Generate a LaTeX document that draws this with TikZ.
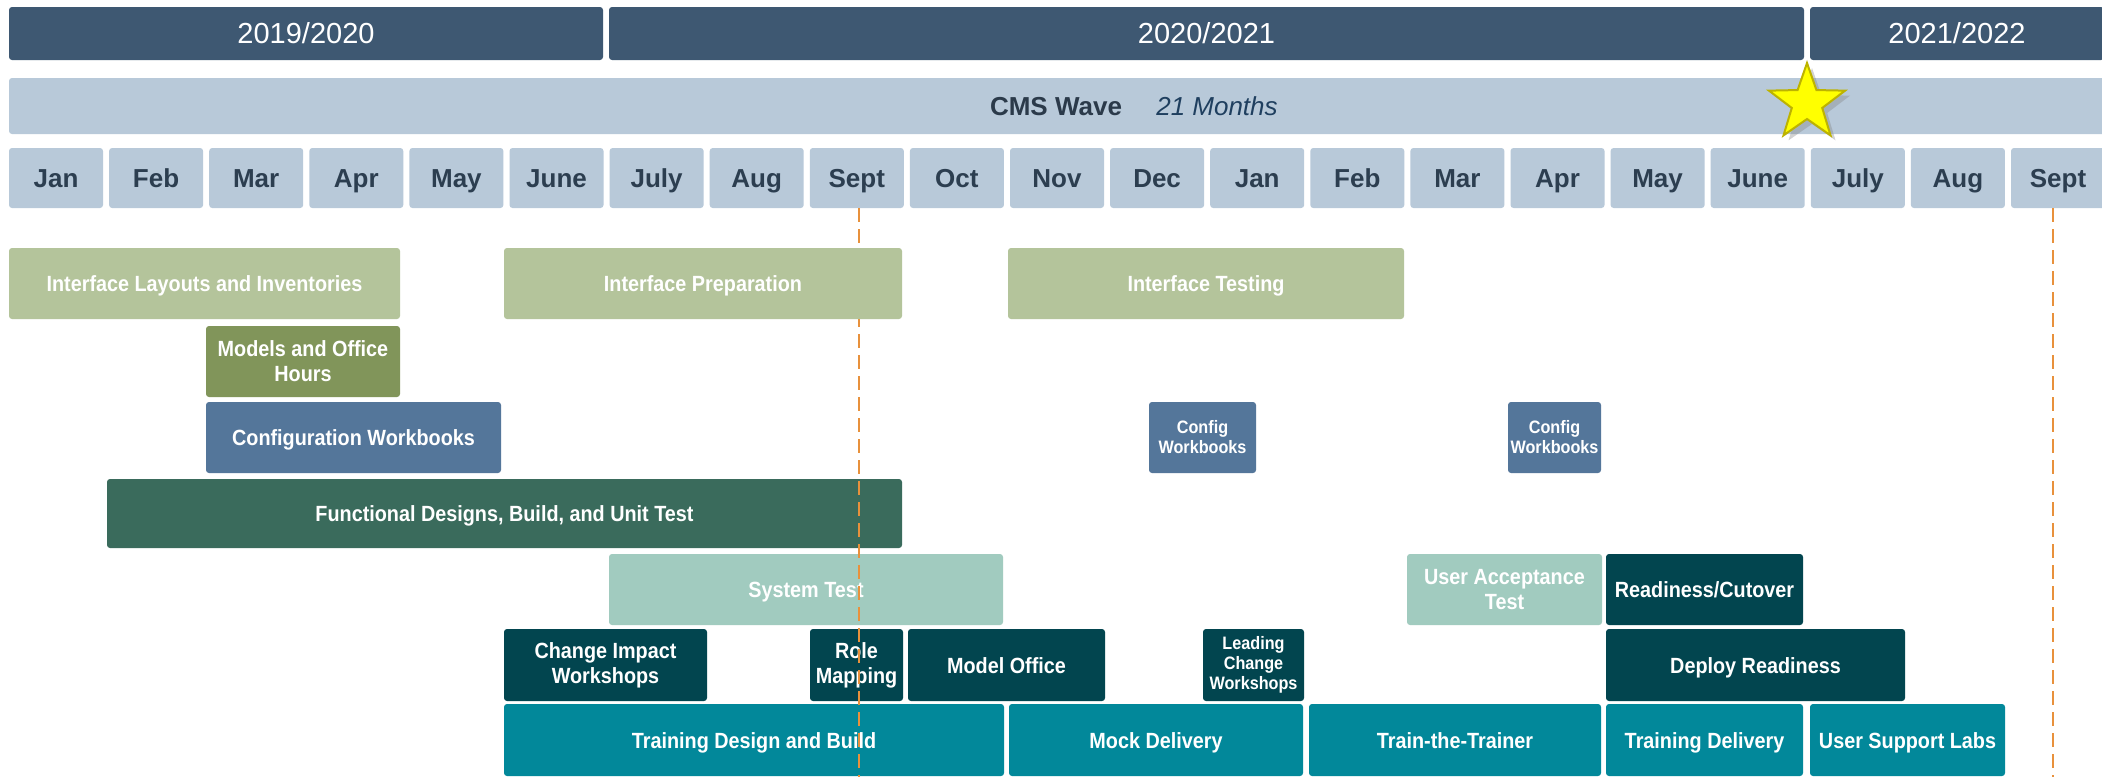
\documentclass[tikz,border=0pt]{standalone}
\usepackage{fontspec}
\setmainfont{Liberation Sans}
\newfontfamily\taskfont[FakeStretch=0.9]{Liberation Sans}
\usetikzlibrary{shapes.geometric,shadows}
\definecolor{yearbar}{HTML}{3E5872}
\definecolor{lightbar}{HTML}{B8C9D9}
\definecolor{monthtxt}{HTML}{2C3E50}
\definecolor{cmstxt}{HTML}{2B3A4A}
\definecolor{cmsital}{HTML}{1F3F5F}
\definecolor{sage}{HTML}{B4C49B}
\definecolor{olivebox}{HTML}{81955A}
\definecolor{steel}{HTML}{54769A}
\definecolor{dkgreen}{HTML}{3A6B5C}
\definecolor{ltteal}{HTML}{A1CBBF}
\definecolor{dkteal}{HTML}{02454F}
\definecolor{tealbox}{HTML}{02889A}
\definecolor{dashorange}{HTML}{E8913C}
\definecolor{starfill}{HTML}{FFFF00}
\definecolor{staredge}{HTML}{BDB300}
\newcommand{\taskbox}[7]{%
  \node[#2, minimum width={(#5-#3)*0.5pt}, minimum height={(#6-#4)*0.5pt}] (#1) at ({(#3+#5)/2},{(#4+#6)/2}) {#7};}
\tikzset{
  basebox/.style={rectangle, rounded corners=1.5pt, inner sep=0pt, outer sep=0pt, align=center},
  yearstyle/.style={basebox, fill=yearbar, text=white, font=\fontsize{14.5}{16}\selectfont, text height=13.4pt, text depth=3pt},
  monthstyle/.style={basebox, fill=lightbar, text=monthtxt, font=\fontsize{13}{15}\selectfont\bfseries, text height=12pt, text depth=2.7pt},
  task/.style={basebox, text=white, font=\fontsize{11}{12.5}\selectfont\taskfont\bfseries},
  oneline/.style={task, text height=10.5pt, text depth=2.5pt},
  smalltask/.style={basebox, text=white, font=\fontsize{9}{10}\selectfont\taskfont\bfseries},
  dashline/.style={draw=dashorange, line width=1.3pt, dash pattern=on 7pt off 3.5pt},
}
\begin{document}
\begin{tikzpicture}[x=0.5pt,y=-0.5pt]
\clip (0,0) rectangle (2102,777);
\fill[white] (0,0) rectangle (2102,777);
% year bars
\taskbox{y1}{yearstyle}{9}{7}{603}{60}{2019/2020}
\taskbox{y2}{yearstyle}{609}{7}{1804}{60}{2020/2021}
\taskbox{y3}{yearstyle}{1810}{7}{2104}{60}{2021/2022}
% CMS wave bar
\taskbox{cms}{basebox, fill=lightbar}{9}{78}{2110}{134}{}
\node[text=cmstxt, font=\fontsize{13}{15}\selectfont\bfseries, text height=12pt, text depth=2.7pt] (cmst) at (1056,106) {CMS Wave};
\node[text=cmsital, font=\fontsize{13}{15}\selectfont\itshape, text height=12pt, text depth=2.7pt] (cmsm) at (1217,106) {21 Months};
% star
\node[star, star points=5, star point ratio=2.5, minimum size=40pt, inner sep=0pt,
      fill=starfill, draw=staredge, line width=1pt,
      drop shadow={opacity=0.35, shadow xshift=2.5pt, shadow yshift=-2.5pt}] (star) at (1807,103) {};
% months
\foreach \m [count=\i from 0] in {Jan,Feb,Mar,Apr,May,June,July,Aug,Sept,Oct,Nov,Dec,Jan,Feb,Mar,Apr,May,June,July,Aug,Sept} {
  \pgfmathsetmacro\xa{9+100.1*\i}
  \node[monthstyle, minimum width=47pt, minimum height=30pt] (m\i) at (\xa+47,178) {\m};
}
% row 1
\taskbox{ila}{oneline, fill=sage}{9}{248}{400}{319}{Interface Layouts and Inventories}
\taskbox{it}{oneline, fill=sage}{1008}{248}{1404}{319}{Interface Testing}
% row 2
\taskbox{moh}{task, fill=olivebox}{206}{326}{400}{397}{Models and Office\\Hours}
% row 3
\taskbox{cw}{oneline, fill=steel}{206}{402}{501}{473}{Configuration Workbooks}
\taskbox{cwa}{smalltask, fill=steel}{1149}{402}{1256}{473}{Config\\Workbooks}
\taskbox{cwb}{smalltask, fill=steel}{1508}{402}{1601}{473}{Config\\Workbooks}
% row 4
\taskbox{fd}{oneline, fill=dkgreen}{107}{479}{902}{548}{Functional Designs, Build, and Unit Test}
% row 5
\taskbox{st}{oneline, fill=ltteal}{609}{554}{1003}{625}{System Test}
\taskbox{uat}{task, fill=ltteal}{1407}{554}{1602}{625}{User Acceptance\\Test}
\taskbox{rc}{oneline, fill=dkteal}{1606}{554}{1803}{625}{Readiness/Cutover}
% row 6
\taskbox{ciw}{task, fill=dkteal}{504}{629}{707}{701}{Change Impact\\Workshops}
\taskbox{rm}{task, fill=dkteal}{810}{629}{903}{701}{Role\\Mapping}
\taskbox{mo}{oneline, fill=dkteal}{908}{629}{1105}{701}{Model Office}
\taskbox{lcw}{smalltask, fill=dkteal}{1203}{629}{1304}{701}{Leading\\Change\\Workshops}
\taskbox{dr}{oneline, fill=dkteal}{1606}{629}{1905}{701}{Deploy Readiness}
% row 7
\taskbox{tdb}{oneline, fill=tealbox}{504}{704}{1004}{776}{Training Design and Build}
\taskbox{md}{oneline, fill=tealbox}{1009}{704}{1303}{776}{Mock Delivery}
\taskbox{ttt}{oneline, fill=tealbox}{1309}{704}{1601}{776}{Train-the-Trainer}
\taskbox{td}{oneline, fill=tealbox}{1606}{704}{1803}{776}{Training Delivery}
\taskbox{usl}{oneline, fill=tealbox}{1810}{704}{2005}{776}{User Support Labs}
% dashed milestone lines
\coordinate (d1a) at (859,208);
\coordinate (d1b) at (859,777);
\coordinate (d2a) at (2053,208);
\coordinate (d2b) at (2053,777);
\draw[dashline] (d1a) -- (d1b);
\draw[dashline] (d2a) -- (d2b);
% box drawn above the dashed line
\taskbox{ip}{oneline, fill=sage}{504}{248}{902}{319}{Interface Preparation}
\end{tikzpicture}
\end{document}
